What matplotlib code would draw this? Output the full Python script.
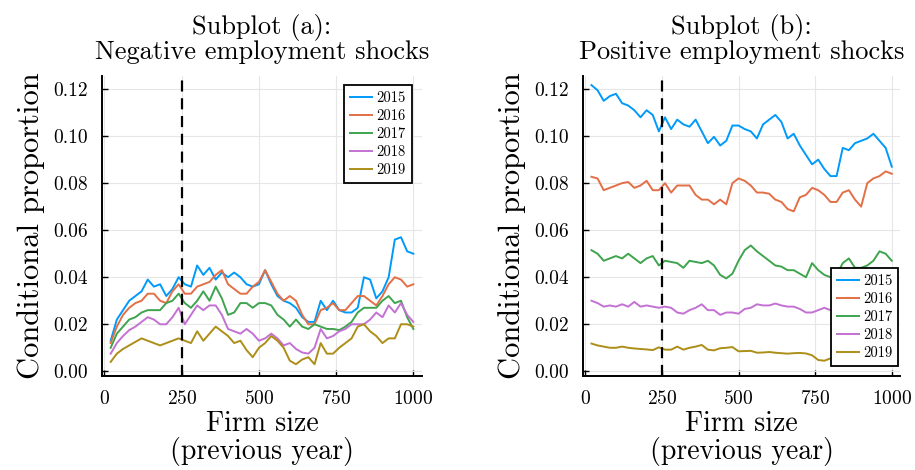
import numpy as np
import matplotlib
matplotlib.use("Agg")
import matplotlib.pyplot as plt

# firm size grid (previous year)
firm_size = list(range(20, 1001, 20))
years = ["2015", "2016", "2017", "2018", "2019"]
colors = ["#009AFA", "#E36F47", "#3EA44E", "#C371D2", "#AC8E18"]

# Subplot (a): negative employment shocks
neg_2015 = [0.013, 0.022, 0.026, 0.030, 0.032, 0.034, 0.039, 0.036, 0.037, 0.032,
            0.035, 0.040, 0.037, 0.036, 0.045, 0.041, 0.044, 0.039, 0.042, 0.040,
            0.042, 0.040, 0.037, 0.036, 0.037, 0.043, 0.037, 0.032, 0.030, 0.029,
            0.027, 0.023, 0.021, 0.021, 0.030, 0.026, 0.030, 0.026, 0.025, 0.025,
            0.027, 0.040, 0.039, 0.031, 0.034, 0.040, 0.056, 0.057, 0.051, 0.050]
neg_2016 = [0.012, 0.019, 0.024, 0.027, 0.029, 0.030, 0.033, 0.033, 0.030, 0.029,
            0.034, 0.037, 0.033, 0.033, 0.036, 0.037, 0.038, 0.041, 0.043, 0.037,
            0.035, 0.033, 0.033, 0.036, 0.038, 0.043, 0.038, 0.033, 0.030, 0.032,
            0.030, 0.024, 0.020, 0.020, 0.026, 0.027, 0.029, 0.026, 0.026, 0.029,
            0.032, 0.032, 0.030, 0.028, 0.032, 0.037, 0.040, 0.039, 0.036, 0.037]
neg_2017 = [0.010, 0.016, 0.019, 0.022, 0.023, 0.025, 0.026, 0.026, 0.026, 0.029,
            0.030, 0.033, 0.029, 0.027, 0.030, 0.034, 0.030, 0.036, 0.031, 0.024,
            0.025, 0.029, 0.029, 0.027, 0.029, 0.029, 0.028, 0.024, 0.022, 0.019,
            0.022, 0.019, 0.018, 0.020, 0.019, 0.018, 0.018, 0.0175, 0.019, 0.021,
            0.025, 0.027, 0.027, 0.027, 0.030, 0.032, 0.029, 0.030, 0.023, 0.018]
neg_2018 = [0.0075, 0.012, 0.015, 0.0175, 0.019, 0.021, 0.023, 0.022, 0.020, 0.020,
            0.023, 0.027, 0.020, 0.024, 0.028, 0.026, 0.028, 0.028, 0.024, 0.018,
            0.017, 0.016, 0.018, 0.016, 0.013, 0.014, 0.016, 0.014, 0.011, 0.012,
            0.0095, 0.008, 0.0075, 0.010, 0.018, 0.014, 0.015, 0.017, 0.018, 0.020,
            0.020, 0.020, 0.022, 0.025, 0.023, 0.028, 0.025, 0.029, 0.024, 0.021]
neg_2019 = [0.004, 0.0075, 0.0095, 0.011, 0.0125, 0.014, 0.013, 0.012, 0.011, 0.012,
            0.013, 0.014, 0.013, 0.012, 0.017, 0.013, 0.016, 0.019, 0.017, 0.015,
            0.012, 0.013, 0.009, 0.006, 0.010, 0.012, 0.015, 0.013, 0.010, 0.0045,
            0.003, 0.005, 0.006, 0.003, 0.012, 0.0075, 0.0075, 0.010, 0.012, 0.014,
            0.019, 0.020, 0.017, 0.015, 0.012, 0.014, 0.014, 0.020, 0.020, 0.019]

# Subplot (b): positive employment shocks
pos_2015 = [0.1217, 0.1195, 0.115, 0.117, 0.118, 0.114, 0.113, 0.111, 0.108, 0.111,
            0.109, 0.102, 0.108, 0.103, 0.107, 0.105, 0.104, 0.107, 0.102, 0.097,
            0.0997, 0.096, 0.098, 0.1045, 0.1045, 0.103, 0.102, 0.099, 0.105, 0.107,
            0.109, 0.106, 0.099, 0.101, 0.096, 0.092, 0.088, 0.090, 0.086, 0.083,
            0.083, 0.095, 0.094, 0.097, 0.098, 0.099, 0.101, 0.098, 0.095, 0.087]
pos_2016 = [0.0827, 0.082, 0.077, 0.078, 0.079, 0.080, 0.0805, 0.078, 0.079, 0.081,
            0.077, 0.077, 0.080, 0.076, 0.079, 0.079, 0.079, 0.075, 0.073, 0.073,
            0.071, 0.073, 0.071, 0.080, 0.082, 0.081, 0.079, 0.076, 0.076, 0.0755,
            0.073, 0.072, 0.069, 0.068, 0.074, 0.075, 0.078, 0.077, 0.075, 0.072,
            0.072, 0.076, 0.077, 0.073, 0.070, 0.080, 0.082, 0.083, 0.085, 0.084]
pos_2017 = [0.0515, 0.050, 0.047, 0.048, 0.049, 0.048, 0.050, 0.048, 0.046, 0.048,
            0.049, 0.045, 0.047, 0.0465, 0.046, 0.044, 0.047, 0.0465, 0.046, 0.047,
            0.045, 0.041, 0.0395, 0.0415, 0.047, 0.0515, 0.0535, 0.051, 0.049, 0.047,
            0.045, 0.0445, 0.043, 0.043, 0.0415, 0.040, 0.046, 0.043, 0.041, 0.040,
            0.041, 0.046, 0.048, 0.044, 0.044, 0.045, 0.047, 0.051, 0.050, 0.047]
pos_2018 = [0.030, 0.029, 0.0275, 0.028, 0.0275, 0.0285, 0.0275, 0.0295, 0.0275, 0.028,
            0.0275, 0.027, 0.0275, 0.027, 0.025, 0.0245, 0.026, 0.027, 0.0285, 0.026,
            0.026, 0.024, 0.025, 0.025, 0.0245, 0.0265, 0.027, 0.0285, 0.028, 0.028,
            0.0288, 0.028, 0.0275, 0.0275, 0.0265, 0.025, 0.025, 0.026, 0.027, 0.026,
            0.026, 0.025, 0.026, 0.025, 0.024, 0.025, 0.024, 0.023, 0.021, 0.019]
pos_2019 = [0.0118, 0.011, 0.0105, 0.010, 0.010, 0.0105, 0.010, 0.0097, 0.0095, 0.0093,
            0.009, 0.0102, 0.0092, 0.0092, 0.0105, 0.0092, 0.010, 0.0105, 0.0112, 0.0092,
            0.0089, 0.0098, 0.0100, 0.0103, 0.0085, 0.0086, 0.0087, 0.0079, 0.008, 0.0082,
            0.0079, 0.0077, 0.0075, 0.0077, 0.0078, 0.0076, 0.0068, 0.0048, 0.0045, 0.0055,
            0.006, 0.0065, 0.007, 0.0072, 0.0075, 0.008, 0.0082, 0.0085, 0.0088, 0.0089]

threshold = 250
xticks = [0, 250, 500, 750, 1000]
yticks = [0.00, 0.02, 0.04, 0.06, 0.08, 0.10, 0.12]

plt.rcParams["font.family"] = ["cmr10", "DejaVu Serif"]
plt.rcParams["axes.formatter.use_mathtext"] = True
plt.rcParams["mathtext.fontset"] = "cm"

fig = plt.figure(figsize=(9.15, 4.70), dpi=100)
ax_a = fig.add_axes([0.1115, 0.2, 0.3497, 0.638])
ax_b = fig.add_axes([0.637, 0.2, 0.347, 0.638])

panels = [
    (ax_a, [neg_2015, neg_2016, neg_2017, neg_2018, neg_2019],
     "Subplot (a):\nNegative employment shocks", "upper right", (0.968, 0.97)),
    (ax_b, [pos_2015, pos_2016, pos_2017, pos_2018, pos_2019],
     "Subplot (b):\nPositive employment shocks", "lower right", (0.994, 0.033)),
]

for ax, series, title, loc, anchor in panels:
    for yr, vals, c in zip(years, series, colors):
        ax.plot(firm_size, vals, color=c, lw=1.4, label=yr)
    ax.axvline(threshold, color="black", lw=1.6, ls=(0, (5, 3)))
    ax.set_xlim(-8, 1028)
    ax.set_ylim(-0.002, 0.1255)
    ax.set_xticks(xticks)
    ax.set_yticks(yticks)
    ax.set_yticklabels([f"{v:.2f}" for v in yticks])
    ax.grid(True, color="#e6e6e6", lw=0.8)
    ax.set_axisbelow(True)
    for s in ["top", "right"]:
        ax.spines[s].set_visible(False)
    for s in ["left", "bottom"]:
        ax.spines[s].set_linewidth(1.4)
    ax.tick_params(direction="in", length=4, width=1, labelsize=14, pad=10)
    ax.set_title(title, fontsize=19, linespacing=1.0, pad=12)
    ax.set_xlabel("Firm size\n(previous year)", fontsize=20, linespacing=1.0,
                  labelpad=2)
    leg = ax.legend(loc=loc, bbox_to_anchor=anchor, fontsize=10.5, frameon=True,
                    fancybox=False, edgecolor="black", framealpha=1,
                    handlelength=1.5, handletextpad=0.3, borderpad=0.4,
                    labelspacing=0.3, borderaxespad=0)
    leg.get_frame().set_linewidth(1.3)

ax_a.set_ylabel("Conditional proportion", fontsize=22, labelpad=6)
ax_b.set_ylabel("Conditional proportion", fontsize=22, labelpad=6)

fig.savefig("out.png", dpi=100)
